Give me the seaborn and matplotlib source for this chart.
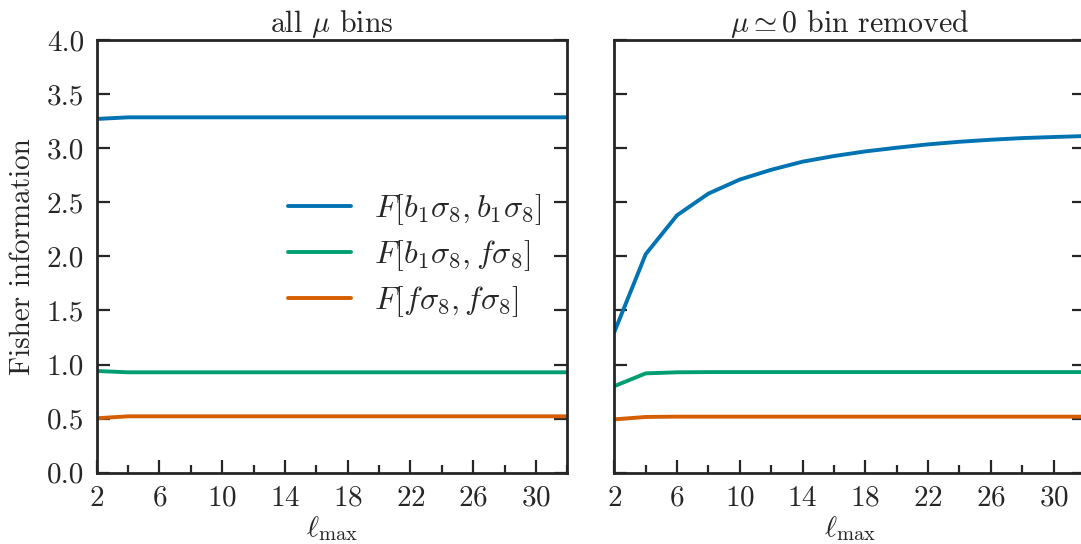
import numpy as np
import pandas as pd
import matplotlib
matplotlib.use("Agg")
import matplotlib.pyplot as plt
import seaborn as sns
from matplotlib.ticker import FixedLocator

# ---- data ----
ell = [2, 4, 6, 8, 10, 12, 14, 16, 18, 20, 22, 24, 26, 28, 30, 32]

all_bb = [3.27, 3.285, 3.285, 3.285, 3.285, 3.285, 3.285, 3.285, 3.285, 3.285, 3.285, 3.285, 3.285, 3.285, 3.285, 3.285]
all_bf = [0.94, 0.928, 0.928, 0.928, 0.928, 0.928, 0.928, 0.928, 0.928, 0.928, 0.928, 0.928, 0.928, 0.928, 0.928, 0.928]
all_ff = [0.503, 0.521, 0.521, 0.521, 0.521, 0.521, 0.521, 0.521, 0.521, 0.521, 0.521, 0.521, 0.521, 0.521, 0.521, 0.521]

rem_bb = [1.30, 2.02, 2.38, 2.58, 2.71, 2.80, 2.875, 2.927, 2.97, 3.004, 3.035, 3.059, 3.078, 3.093, 3.103, 3.112]
rem_bf = [0.80, 0.918, 0.928, 0.930, 0.930, 0.930, 0.930, 0.930, 0.930, 0.930, 0.930, 0.930, 0.930, 0.930, 0.930, 0.930]
rem_ff = [0.493, 0.515, 0.518, 0.518, 0.518, 0.518, 0.518, 0.518, 0.518, 0.518, 0.518, 0.518, 0.518, 0.518, 0.518, 0.518]

series_names = [r"$F[b_1\sigma_8, b_1\sigma_8]$",
                r"$F[b_1\sigma_8, f\sigma_8]$",
                r"$F[f\sigma_8, f\sigma_8]$"]
panel_titles = [r"all $\mu$ bins", r"$\mu \simeq 0$ bin removed"]
xtick_major = [2, 6, 10, 14, 18, 22, 26, 30]
xtick_minor = [4, 8, 12, 16, 20, 24, 28, 32]
ytick_vals = [0.0, 0.5, 1.0, 1.5, 2.0, 2.5, 3.0, 3.5, 4.0]

rows = []
for panel, vals in zip(panel_titles, [[all_bb, all_bf, all_ff], [rem_bb, rem_bf, rem_ff]]):
    for name, v in zip(series_names, vals):
        for l, y in zip(ell, v):
            rows.append({"ell": l, "F": y, "series": name, "panel": panel})
df = pd.DataFrame(rows)

# ---- style ----
sns.set_theme(style="ticks")
cb = sns.color_palette("colorblind")
palette = {series_names[0]: cb[0], series_names[1]: cb[2], series_names[2]: cb[3]}
plt.rcParams.update({
    "font.family": "serif",
    "font.serif": ["cmr10", "DejaVu Serif"],
    "mathtext.fontset": "cm",
    "axes.formatter.use_mathtext": True,
    "axes.unicode_minus": False,
    "axes.edgecolor": "#262626",
    "axes.linewidth": 2.0,
    "xtick.color": "#262626",
    "ytick.color": "#262626",
})

fig = plt.figure(figsize=(10.81, 5.44), dpi=100)
axL = fig.add_axes([0.0895, 0.1311, 0.4353, 0.7954])
axR = fig.add_axes([0.5683, 0.1311, 0.4353, 0.7954], sharey=axL)

fs = 21
lw = 2.8
for i, (ax, title) in enumerate(zip([axL, axR], panel_titles)):
    sub = df[df["panel"] == title]
    sns.lineplot(data=sub, x="ell", y="F", hue="series", palette=palette,
                 hue_order=series_names, linewidth=lw, ax=ax, legend=(i == 0))
    ax.set_xlim(2, 32)
    ax.set_ylim(0, 4)
    ax.xaxis.set_major_locator(FixedLocator(xtick_major))
    ax.xaxis.set_minor_locator(FixedLocator(xtick_minor))
    ax.yaxis.set_major_locator(FixedLocator(ytick_vals))
    ax.tick_params(axis="both", which="major", direction="in", length=9.5, width=1.6,
                   labelsize=fs)
    ax.tick_params(axis="y", which="major", pad=9)
    ax.tick_params(axis="x", which="major", pad=9)
    ax.tick_params(axis="x", which="minor", direction="in", length=5.5, width=1.6)
    ax.tick_params(axis="y", which="both", left=True, right=True)
    ax.tick_params(axis="x", which="both", top=False, bottom=True)
    ax.set_title(title, fontsize=21.5, pad=5)
    ax.set_xlabel(r"$\ell_{\rm max}$", fontsize=fs, labelpad=2)
    for s in ax.spines.values():
        s.set_linewidth(2.0)
        s.set_color("#262626")

axL.set_yticklabels([f"{v:.1f}" for v in ytick_vals])
axL.set_ylabel("Fisher information", fontsize=fs, labelpad=8)
axR.set_ylabel("")
axR.tick_params(axis="y", labelleft=False)

lfs = 23
handles, labels = axL.get_legend_handles_labels()
axL.legend(handles, labels, loc="center left", bbox_to_anchor=(0.346, 0.502),
           frameon=False, fontsize=lfs, handlelength=1.97, handletextpad=0.72,
           labelspacing=0.35)
for h in axL.get_legend().get_lines():
    h.set_linewidth(lw)

fig.savefig("out.png", dpi=100)
